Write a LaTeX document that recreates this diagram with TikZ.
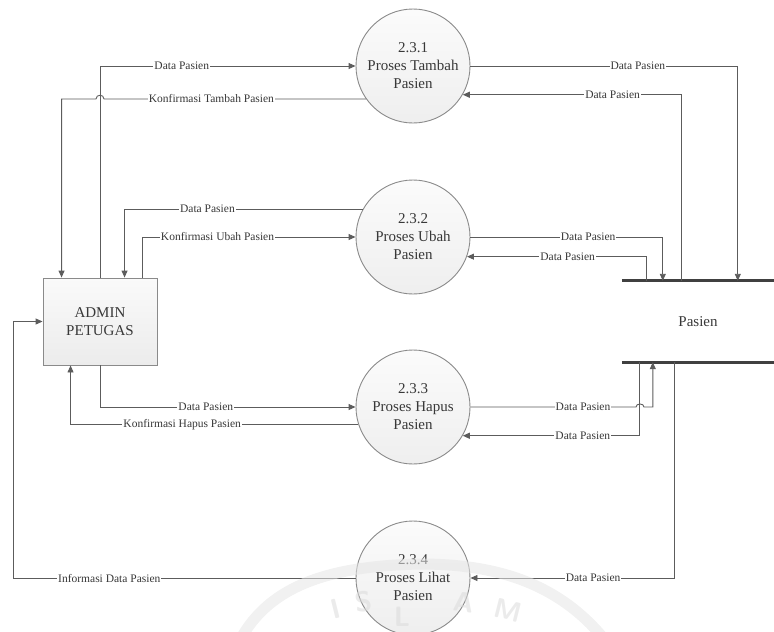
\documentclass[tikz,border=0pt]{standalone}
\usepackage{fontspec}
\setmainfont{Liberation Serif}
\usetikzlibrary{arrows.meta}
\definecolor{ink}{HTML}{383838}
\definecolor{wire}{HTML}{5C5C5C}
\definecolor{rim}{HTML}{8A8A8A}
\begin{document}
\begin{tikzpicture}[x=1pt,y=-1pt,
  wireline/.style={draw=wire, line width=0.9pt},
  flow/.style={wireline, -{Triangle[length=7pt,width=6pt]}},
  lbl/.style={fill=white, inner sep=1pt, text=ink, font=\fontsize{11.5}{12}\selectfont},
  proc/.style={circle, draw=rim, line width=0.9pt, minimum size=114pt, inner sep=0pt,
    top color=gray!3, bottom color=gray!13, text=ink, align=center,
    font=\fontsize{15}{18}\selectfont},
  entity/.style={rectangle, draw=rim, line width=0.9pt, minimum width=114pt, minimum height=87pt,
    top color=gray!4, bottom color=gray!15, text=ink, align=center,
    font=\fontsize{15}{18}\selectfont},
  datastore/.style={rectangle, minimum width=152pt, minimum height=81pt, inner sep=0pt,
    text=ink, font=\fontsize{15}{18}\selectfont},
  storeedge/.style={draw=black!75, line width=3pt},
  mark letter/.style={text=gray!28, inner sep=0pt, font=\sffamily\bfseries\fontsize{28}{28}\selectfont}
]
\useasboundingbox (0,0) rectangle (774,632);

% external entity, processes and data store
\node[entity] (admin) at (100,321.5) {ADMIN\\PETUGAS};
\node[proc] (p1) at (413,66)  {2.3.1\\Proses Tambah\\Pasien};
\node[proc] (p2) at (413,237) {2.3.2\\Proses Ubah\\Pasien};
\node[proc] (p3) at (413,407) {2.3.3\\Proses Hapus\\Pasien};
\node[proc] (p4) at (413,578) {2.3.4\\Proses Lihat\\Pasien};
\node[datastore] (pasien) at (698,321.5) {Pasien};
\draw[storeedge] (pasien.north west) -- (pasien.north east);
\draw[storeedge] (pasien.south west) -- (pasien.south east);

% 2.3.1 tambah
\draw[flow] (admin.north) |- node[lbl,pos=0.66]{Data Pasien} (p1.west);
\draw[flow] (p1.215.37) -- node[lbl,pos=0.59]{Konfirmasi Tambah Pasien} (104,99)
  .. controls (104,94) and (96,94) .. (96,99) -| ([xshift=19pt]admin.north west);
\draw[flow] (p1.east) -| node[lbl,pos=0.313]{Data Pasien} ([xshift=116pt]pasien.north west);
\draw[flow] ([xshift=60pt]pasien.north west) |- node[lbl,pos=0.658]{Data Pasien} (p1.330.58);

% 2.3.2 ubah
\draw[flow] (p2.151.73) -| node[lbl,pos=0.326]{Data Pasien} ([xshift=82pt]admin.north west);
\draw[flow] ([xshift=100pt]admin.north west) |- node[lbl,pos=0.676]{Konfirmasi Ubah Pasien} (p2.west);
\draw[flow] (p2.east) -| node[lbl,pos=0.306]{Data Pasien} ([xshift=41pt]pasien.north west);
\draw[flow] ([xshift=25pt]pasien.north west) |- node[lbl,pos=0.72]{Data Pasien} (p2.340.53);

% 2.3.3 hapus
\draw[flow] (admin.south) |- node[lbl,pos=0.707]{Data Pasien} (p3.west);
\draw[flow] (p3.198.41) -| node[lbl,pos=0.306]{Konfirmasi Hapus Pasien} ([xshift=28pt]admin.south west);
\draw[flow] (p3.east) -- node[lbl,pos=0.68]{Data Pasien} (636,407)
  .. controls (636,403) and (644,403) .. (644,407) -| ([xshift=31pt]pasien.south west);
\draw[flow] ([xshift=18pt]pasien.south west) |- node[lbl,pos=0.661]{Data Pasien} (p3.330.58);

% 2.3.4 lihat
\draw[flow] ([xshift=53pt]pasien.south west) |- node[lbl,pos=0.70]{Data Pasien} (p4.east);
\draw[flow] (p4.west) -| node[lbl,pos=0.36]{Informasi Data Pasien} ([xshift=-29pt]admin.west) -- (admin.west);

% faint seal printed over the lower part of the sheet
\begin{scope}[opacity=0.55]
\draw[draw=gray!20, line width=11pt]
  (240,640) .. controls (270,585) and (330,566) .. (420,564)
  .. controls (500,564) and (560,585) .. (605,640);
\node[mark letter, rotate=14] at (336,609) {I};
\node[mark letter, rotate=8]  at (364,602) {S};
\node[mark letter, rotate=0]  at (402,617) {L};
\node[mark letter, rotate=-8] at (464,602) {A};
\node[mark letter, rotate=-14] at (508,610) {M};
\end{scope}
\end{tikzpicture}
\end{document}
